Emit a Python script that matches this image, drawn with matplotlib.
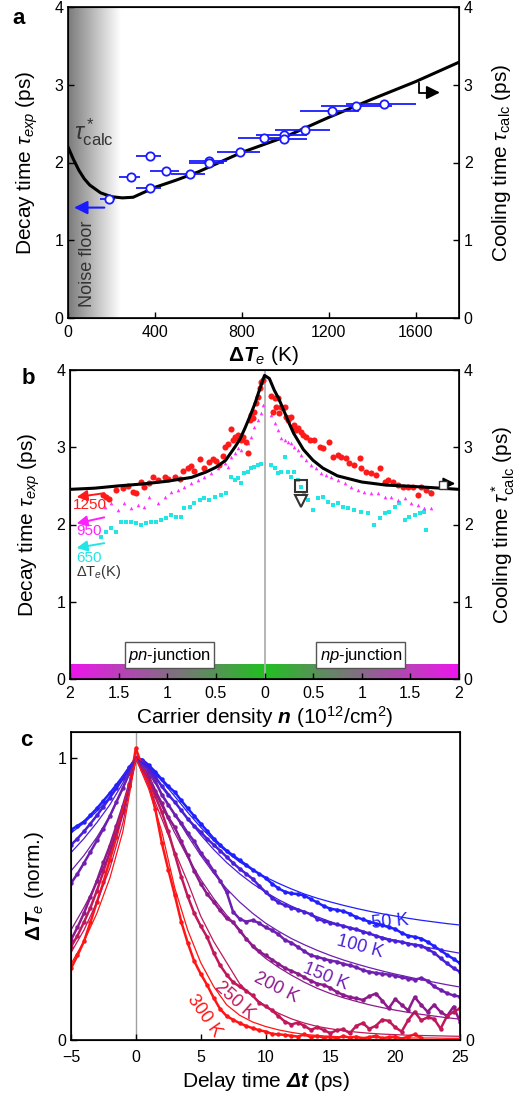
import numpy as np
import matplotlib
matplotlib.use("Agg")
import matplotlib.pyplot as plt
from matplotlib.colors import LinearSegmentedColormap

plt.rcParams['font.family'] = ['Liberation Sans', 'DejaVu Sans']
plt.rcParams['mathtext.fontset'] = 'custom'
plt.rcParams['mathtext.rm'] = 'Liberation Sans'
plt.rcParams['mathtext.it'] = 'Liberation Sans:italic'
plt.rcParams['mathtext.bf'] = 'Liberation Sans:bold'
plt.rcParams['mathtext.bfit'] = 'Liberation Sans:bold:italic'
plt.rcParams['xtick.direction'] = 'in'
plt.rcParams['ytick.direction'] = 'in'

# ---------------- panel a data ----------------
dTe = [188, 289, 378, 378, 452, 560, 651, 651, 792, 902, 995, 995, 1089, 1217, 1328, 1457]
tau_exp = [1.536, 1.818, 2.09, 1.677, 1.887, 1.852, 2.024, 1.99, 2.13, 2.319, 2.353, 2.297,
           2.413, 2.657, 2.725, 2.751]
dTe_lo = [146, 235, 315, 315, 378, 474, 558, 558, 686, 782, 866, 915, 954, 1066, 1165, 1282]
dTe_hi = [215, 331, 429, 429, 511, 631, 731, 718, 882, 1008, 1100, 1100, 1205, 1338, 1492, 1600]

calc_a_x = [0, 25, 50, 75, 100, 150, 200, 250, 300, 400, 500, 600, 800, 1000, 1200, 1400, 1600, 1800]
calc_a_y = [2.2, 2.04, 1.9, 1.79, 1.71, 1.61, 1.56, 1.545, 1.553, 1.68, 1.775, 1.88, 2.13, 2.33,
            2.58, 2.815, 3.04, 3.29]

# ---------------- panel b data ----------------
calc_b_n = [-2, -1.75, -1.5, -1.25, -1, -0.75, -0.6, -0.5, -0.4, -0.3, -0.25, -0.2, -0.15, -0.1,
            -0.05, 0, 0.05, 0.1, 0.15, 0.2, 0.25, 0.3, 0.4, 0.5, 0.6, 0.75, 1, 1.25, 1.5, 1.75, 2]
calc_b_tau = [2.455, 2.47, 2.5, 2.525, 2.56, 2.61, 2.68, 2.74, 2.83, 3.01, 3.11, 3.25, 3.4, 3.56,
              3.75, 3.93, 3.89, 3.74, 3.62, 3.47, 3.32, 3.18, 2.97, 2.83, 2.73, 2.63, 2.55, 2.51,
              2.495, 2.475, 2.455]

red_n = [-1.662, -1.628, -1.594, -1.525, -1.457, -1.405, -1.354, -1.320, -1.268, -1.234, -1.183,
         -1.148, -1.097, -1.028, -0.994, -0.925, -0.874, -0.840, -0.788, -0.754, -0.720, -0.668,
         -0.617, -0.566, -0.531, -0.497, -0.463, -0.428, -0.411, -0.377, -0.343, -0.326, -0.308,
         -0.291, -0.274, -0.257, -0.240, -0.223, -0.189, -0.171, -0.154, -0.137, -0.120, -0.103,
         -0.086, -0.069, -0.051, -0.034, -0.017,
         0.069, 0.086, 0.103, 0.120, 0.137, 0.154, 0.171, 0.189, 0.206, 0.223, 0.240, 0.257,
         0.274, 0.291, 0.308, 0.326, 0.343, 0.377, 0.394, 0.428, 0.463, 0.514, 0.566, 0.600,
         0.668, 0.703, 0.754, 0.788, 0.840, 0.874, 0.925, 0.977, 0.994, 1.045, 1.097, 1.148,
         1.183, 1.234, 1.268, 1.320, 1.371, 1.423, 1.474, 1.526, 1.577, 1.611, 1.663, 1.714]
red_tau = [2.381, 2.36, 2.325, 2.446, 2.468, 2.502, 2.425, 2.403, 2.554, 2.489, 2.533, 2.610,
           2.576, 2.619, 2.584, 2.610, 2.584, 2.692, 2.727, 2.757, 2.697, 2.843, 2.727, 2.813,
           2.843, 2.826, 2.770, 2.886, 3.007, 3.042, 3.232, 3.094, 3.137, 3.115, 3.158, 3.128,
           3.094, 3.137, 3.072, 2.921, 3.353, 3.417, 3.374, 3.460, 3.568, 3.655, 3.763, 3.849,
           3.871,
           3.663, 3.460, 3.633, 3.525, 3.633, 3.439, 3.525, 3.504, 3.525, 3.396, 3.353, 3.374,
           3.396, 3.266, 3.288, 3.223, 3.245, 3.202, 3.158, 3.137, 3.094, 3.094, 3.007, 2.986,
           3.072, 2.878, 2.899, 2.878, 2.856, 2.792, 2.770, 2.856, 2.727, 2.684, 2.662, 2.640,
           2.727, 2.554, 2.576, 2.554, 2.511, 2.489, 2.489, 2.489, 2.381, 2.489, 2.446, 2.412]

mag_n = [-1.645, -1.577, -1.508, -1.440, -1.371, -1.303, -1.234, -1.183, -1.097, -1.028, -0.960,
         -0.891, -0.823, -0.754, -0.686, -0.617, -0.548, -0.480, -0.411, -0.377, -0.343, -0.308,
         -0.274, -0.240, -0.206, -0.171, -0.137, -0.103, -0.069, -0.034, -0.017,
         0.069, 0.103, 0.137, 0.171, 0.206, 0.240, 0.274, 0.308, 0.343, 0.377, 0.428, 0.480,
         0.531, 0.583, 0.634, 0.686, 0.754, 0.823, 0.891, 0.960, 1.028, 1.097, 1.165, 1.234,
         1.303, 1.371, 1.440, 1.508, 1.577, 1.645, 1.714]
mag_tau = [2.230, 2.274, 2.187, 2.274, 2.209, 2.252, 2.230, 2.360, 2.274, 2.360, 2.425, 2.446,
           2.489, 2.533, 2.576, 2.619, 2.662, 2.727, 2.792, 2.748, 2.878, 2.921, 2.986, 2.964,
           3.094, 3.050, 3.137, 3.266, 3.353, 3.439, 3.547,
           3.417, 3.309, 3.223, 3.115, 3.094, 3.072, 3.050, 3.007, 2.964, 2.899, 2.835, 2.770,
           2.727, 2.662, 2.640, 2.619, 2.576, 2.533, 2.489, 2.446, 2.425, 2.403, 2.403, 2.360,
           2.360, 2.317, 2.338, 2.274, 2.252, 2.209, 2.209]

cyan_n = [-1.680, -1.628, -1.577, -1.525, -1.474, -1.423, -1.371, -1.320, -1.268, -1.217, -1.165,
          -1.114, -1.063, -1.011, -0.960, -0.908, -0.857, -0.823, -0.771, -0.720, -0.668, -0.617,
          -0.566, -0.514, -0.446, -0.394, -0.343, -0.308, -0.274, -0.240, -0.206, -0.171, -0.137,
          -0.103, -0.069, -0.034,
          0.069, 0.103, 0.137, 0.171, 0.206, 0.240, 0.274, 0.308, 0.343, 0.377, 0.411, 0.446,
          0.497, 0.548, 0.600, 0.651, 0.703, 0.754, 0.806, 0.857, 0.925, 0.994, 1.063, 1.131,
          1.183, 1.234, 1.285, 1.337, 1.388, 1.440, 1.491, 1.543, 1.594, 1.645, 1.663, 1.697]
cyan_tau = [1.842, 1.907, 1.950, 1.907, 2.036, 2.036, 2.036, 2.015, 1.993, 2.015, 2.036, 2.036,
            2.058, 2.079, 2.123, 2.101, 2.101, 2.209, 2.230, 2.274, 2.317, 2.338, 2.317, 2.360,
            2.381, 2.403, 2.619, 2.576, 2.597, 2.533, 2.662, 2.684, 2.727, 2.748, 2.770, 2.783,
            2.770, 2.727, 2.662, 2.684, 2.878, 2.684, 2.619, 2.684, 2.576, 2.489, 2.403, 2.317,
            2.187, 2.338, 2.360, 2.295, 2.252, 2.274, 2.230, 2.209, 2.187, 2.166, 2.144, 1.993,
            2.079, 2.144, 2.166, 2.230, 2.274, 2.058, 2.101, 2.123, 2.144, 2.166, 1.928, 2.425]

n_ticks = [-2, -1.5, -1, -0.5, 0, 0.5, 1, 1.5, 2]
n_ticklabels = ['2', '1.5', '1', '0.5', '0', '0.5', '1', '1.5', '2']

# ---------------- panel c data ----------------
delay = np.arange(-5, 25.5, 0.5)
fit_t = np.arange(-5, 26, 1)
temps = ['50 K', '100 K', '150 K', '200 K', '250 K', '300 K']

dTe_50 = [0.746, 0.760, 0.775, 0.798, 0.822, 0.849, 0.876, 0.905, 0.935, 0.968, 1.0,
          0.995, 0.975, 0.952, 0.925, 0.90, 0.88, 0.85, 0.822, 0.795, 0.768, 0.742, 0.715,
          0.692, 0.672, 0.655, 0.638, 0.622, 0.605, 0.59, 0.575, 0.555, 0.538, 0.526, 0.52,
          0.518, 0.512, 0.50, 0.488, 0.475, 0.466, 0.462, 0.457, 0.448, 0.436, 0.428, 0.42,
          0.413, 0.408, 0.40, 0.394, 0.38, 0.37, 0.366, 0.36, 0.348, 0.333, 0.318, 0.302,
          0.288, 0.272]
dTe_100 = [0.692, 0.715, 0.740, 0.768, 0.797, 0.828, 0.860, 0.893, 0.928, 0.964, 1.0,
           0.99, 0.965, 0.935, 0.90, 0.87, 0.845, 0.815, 0.785, 0.76, 0.738, 0.714, 0.693,
           0.672, 0.65, 0.628, 0.608, 0.59, 0.572, 0.548, 0.525, 0.505, 0.488, 0.478, 0.47,
           0.462, 0.455, 0.446, 0.43, 0.422, 0.416, 0.41, 0.405, 0.398, 0.393, 0.385, 0.378,
           0.37, 0.362, 0.356, 0.352, 0.348, 0.342, 0.338, 0.335, 0.322, 0.31, 0.29, 0.272,
           0.255, 0.242]
dTe_150 = [0.556, 0.59, 0.628, 0.668, 0.708, 0.75, 0.795, 0.845, 0.895, 0.947, 1.0,
           0.985, 0.955, 0.92, 0.87, 0.835, 0.80, 0.77, 0.735, 0.705, 0.665, 0.635, 0.60,
           0.565, 0.525, 0.455, 0.43, 0.42, 0.425, 0.415, 0.40, 0.39, 0.375, 0.355, 0.345,
           0.33, 0.315, 0.30, 0.295, 0.288, 0.282, 0.278, 0.27, 0.265, 0.258, 0.248, 0.242,
           0.238, 0.235, 0.232, 0.228, 0.222, 0.218, 0.214, 0.22, 0.21, 0.19, 0.178, 0.166,
           0.158, 0.154]
dTe_200 = [0.355, 0.40, 0.45, 0.508, 0.565, 0.63, 0.69, 0.76, 0.83, 0.91, 1.0,
           0.975, 0.935, 0.885, 0.84, 0.79, 0.755, 0.705, 0.655, 0.60, 0.555, 0.518, 0.49,
           0.46, 0.432, 0.418, 0.388, 0.36, 0.335, 0.315, 0.30, 0.285, 0.27, 0.255, 0.245,
           0.235, 0.222, 0.21, 0.20, 0.195, 0.185, 0.17, 0.16, 0.152, 0.148, 0.142, 0.155,
           0.165, 0.14, 0.112, 0.145, 0.125, 0.105, 0.152, 0.125, 0.10, 0.125, 0.10, 0.085,
           0.118, 0.065]
dTe_250 = [0.331, 0.37, 0.418, 0.47, 0.53, 0.598, 0.668, 0.742, 0.82, 0.90, 1.0,
           0.96, 0.915, 0.865, 0.81, 0.74, 0.66, 0.58, 0.51, 0.45, 0.405, 0.365, 0.31,
           0.265, 0.232, 0.205, 0.19, 0.175, 0.158, 0.133, 0.12, 0.105, 0.085, 0.065, 0.055,
           0.062, 0.05, 0.036, 0.045, 0.035, 0.024, 0.035, 0.038, 0.024, 0.05, 0.06, 0.04,
           0.05, 0.072, 0.068, 0.045, 0.03, 0.07, 0.10, 0.07, 0.08, 0.075, 0.04, 0.085,
           0.10, 0.112]
dTe_300 = [0.254, 0.30, 0.35, 0.418, 0.49, 0.56, 0.64, 0.72, 0.81, 0.90, 1.035,
           0.97, 0.915, 0.82, 0.70, 0.605, 0.515, 0.42, 0.345, 0.28, 0.235, 0.195, 0.15,
           0.11, 0.085, 0.072, 0.06, 0.05, 0.042, 0.035, 0.03, 0.022, 0.02, 0.018, 0.015,
           0.012, 0.02, 0.01, 0.015, 0.008, 0.012, 0.006, 0.014, 0.008, 0.012, 0.005, 0.01,
           0.015, 0.006, 0.01, 0.012, 0.005, 0.012, 0.02, 0.008, np.nan, np.nan, np.nan,
           np.nan, np.nan, np.nan]

fit_50 = [0.735, 0.77, 0.812, 0.862, 0.925, 1.0, 0.968, 0.92, 0.865, 0.808, 0.755, 0.708,
          0.667, 0.632, 0.603, 0.578, 0.556, 0.536, 0.518, 0.503, 0.49, 0.478, 0.467, 0.457,
          0.448, 0.44, 0.432, 0.425, 0.419, 0.413, 0.408]
fit_100 = [0.665, 0.715, 0.772, 0.835, 0.912, 1.0, 0.958, 0.905, 0.845, 0.785, 0.728, 0.676,
           0.63, 0.59, 0.555, 0.525, 0.498, 0.475, 0.455, 0.437, 0.42, 0.404, 0.39, 0.377,
           0.365, 0.353, 0.343, 0.333, 0.324, 0.316, 0.308]
fit_150 = [0.6, 0.655, 0.72, 0.795, 0.89, 1.0, 0.945, 0.875, 0.80, 0.725, 0.655, 0.592,
           0.537, 0.49, 0.45, 0.415, 0.386, 0.36, 0.338, 0.318, 0.30, 0.284, 0.27, 0.257,
           0.245, 0.234, 0.224, 0.214, 0.205, 0.196, 0.188]
fit_200 = [0.39, 0.47, 0.56, 0.665, 0.8, 1.0, 0.925, 0.83, 0.735, 0.648, 0.57, 0.502,
           0.443, 0.393, 0.33, 0.29, 0.258, 0.23, 0.205, 0.183, 0.165, 0.15, 0.137, 0.125,
           0.115, 0.106, 0.098, 0.091, 0.085, 0.079, 0.074]
fit_250 = [0.31, 0.39, 0.49, 0.61, 0.77, 1.0, 0.9, 0.785, 0.67, 0.56, 0.44, 0.35,
           0.275, 0.2, 0.155, 0.12, 0.095, 0.075, 0.06, 0.048, 0.04, 0.033, 0.028, 0.024,
           0.021, 0.019, 0.017, 0.016, 0.015, 0.014, 0.013]
fit_300 = [0.27, 0.35, 0.45, 0.575, 0.74, 1.0, 0.89, 0.74, 0.54, 0.39, 0.275, 0.19,
           0.125, 0.088, 0.064, 0.048, 0.036, 0.027, 0.02, 0.016, 0.013, 0.011, 0.01, 0.009,
           0.008, 0.008, 0.007, 0.007, 0.007, 0.006, 0.006]

series_c = [dTe_50, dTe_100, dTe_150, dTe_200, dTe_250, dTe_300]
fits_c = [fit_50, fit_100, fit_150, fit_200, fit_250, fit_300]
colors_c = ['#2020ff', '#4a1fd8', '#6e1fb0', '#8c1a8c', '#c0185a', '#ff1515']

fig = plt.figure(figsize=(5.27, 10.97), dpi=100)
W, H = 527.0, 1097.0
tick_fs = 11.5
lab_fs = 15


def style_axes(ax):
    ax.tick_params(labelsize=tick_fs, length=4, width=1)
    ax.tick_params(axis='x', pad=5)
    for s in ax.spines.values():
        s.set_linewidth(1.2)


# ================= panel a =================
ax = fig.add_axes([68 / W, 1 - 318 / H, 391 / W, 311 / H])
grad = np.linspace(0.48, 1.0, 256).reshape(1, -1)
ax.imshow(grad, cmap='gray', vmin=0, vmax=1, aspect='auto', extent=[0, 240, 0, 4], zorder=0)
ax.plot(calc_a_x, calc_a_y, color='black', lw=2.2, zorder=3)
xerr = [np.array(dTe) - np.array(dTe_lo), np.array(dTe_hi) - np.array(dTe)]
ax.errorbar(dTe, tau_exp, xerr=xerr, fmt='o', color='#1a1aff', mfc='white', mec='#1a1aff',
            ms=6, mew=1.3, elinewidth=1.3, capsize=0, zorder=4)
ax.annotate('', xy=(15, 1.42), xytext=(180, 1.42),
            arrowprops=dict(arrowstyle='-|>', color='#1a1aff', lw=1.5, mutation_scale=20))
ax.plot([1615, 1615, 1665], [3.02, 2.9, 2.9], color='black', lw=1.3)
ax.annotate('', xy=(1725, 2.9), xytext=(1660, 2.9),
            arrowprops=dict(arrowstyle='-|>', color='black', lw=1.3, mutation_scale=20))
ax.text(28, 2.3, r'$\tau^*_{\rm calc}$', fontsize=17, color='#333333')
ax.text(88, 0.7, 'Noise floor', rotation=90, fontsize=13, color='#333333',
        ha='center', va='center')
ax.set_xlim(0, 1800)
ax.set_ylim(0, 4)
ax.set_xticks([0, 400, 800, 1200, 1600])
ax.set_yticks([0, 1, 2, 3, 4])
style_axes(ax)
ax.set_xlabel(r'$\mathbf{\Delta}\mathbfit{T}_e$ (K)', fontsize=lab_fs, labelpad=3)
ax.set_ylabel(r'Decay time $\tau_{exp}$ (ps)', fontsize=lab_fs, labelpad=10)
axr = ax.twinx()
axr.set_ylim(0, 4)
axr.set_yticks([0, 1, 2, 3, 4])
axr.tick_params(labelsize=tick_fs, length=4, width=1)
axr.set_ylabel(r'Cooling time $\tau_{\rm calc}$ (ps)', fontsize=lab_fs, labelpad=12)
fig.text(12 / W, 1 - 18 / H, 'a', fontsize=16, fontweight='bold', va='center')

# ================= panel b =================
ax = fig.add_axes([70 / W, 1 - 679 / H, 389 / W, 309 / H])
strip = LinearSegmentedColormap.from_list('jn', ['#ee15ee', '#20c020', '#ee15ee'])
ax.imshow(np.linspace(0, 1, 256).reshape(1, -1), cmap=strip, aspect='auto',
          extent=[-2, 2, 0, 0.185], zorder=0)
ax.axvline(0, color='#b0b0b0', lw=1.3, zorder=1)
ax.plot(cyan_n, cyan_tau, 's', color='#22e6e6', ms=2.8, mew=0, zorder=2)
ax.plot(mag_n, mag_tau, '^', color='#ff30ff', ms=2.6, mew=0, zorder=2)
ax.plot(red_n, red_tau, 'o', color='#ff1a1a', ms=4.4, mew=0, zorder=3)
ax.plot(calc_b_n, calc_b_tau, color='black', lw=2.2, zorder=4)
ax.plot([0.377], [2.50], 's', mfc='none', mec='#333333', ms=8, mew=1.5, zorder=5)
ax.plot([0.377], [2.30], 'v', mfc='none', mec='#333333', ms=8, mew=1.5, zorder=5)
ax.plot([1.84], [2.51], 's', mfc='white', mec='#333333', ms=6, mew=1.0, zorder=5)
ax.annotate('', xy=(1.99, 2.53), xytext=(1.86, 2.53),
            arrowprops=dict(arrowstyle='-|>', color='black', lw=1.3, mutation_scale=18))
arrow_specs = [('#ff1a1a', 2.41, 2.35, '1250', 2.25),
               ('#ff20ff', 2.10, 2.006, '950', 1.91),
               ('#22e6e6', 1.765, 1.69, '650', 1.57)]
for col, y0, y1, lab, ly in arrow_specs:
    ax.annotate('', xy=(-1.96, y1), xytext=(-1.62, y0),
                arrowprops=dict(arrowstyle='-|>', color=col, lw=1.4, mutation_scale=16))
    ax.text(-1.80, ly, lab, color=col, fontsize=11, ha='center', va='center')
ax.text(-1.70, 1.38, r'$\Delta$T$_e$(K)', color='#333333', fontsize=10.5, ha='center', va='center')
box = dict(boxstyle='square,pad=0.2', fc='white', ec='#555555', lw=1.0)
ax.text(-0.98, 0.31, r'$pn$-junction', fontsize=12, ha='center', va='center', bbox=box)
ax.text(0.99, 0.31, r'$np$-junction', fontsize=12, ha='center', va='center', bbox=box)
ax.set_xlim(-2, 2)
ax.set_ylim(0, 4)
ax.set_xticks(n_ticks)
ax.set_xticklabels(n_ticklabels)
ax.set_yticks([0, 1, 2, 3, 4])
style_axes(ax)
ax.set_xlabel(r'Carrier density $\mathbfit{n}$ (10$^{12}$/cm$^2$)', fontsize=lab_fs, labelpad=2)
ax.set_ylabel(r'Decay time $\tau_{exp}$ (ps)', fontsize=lab_fs, labelpad=10)
axr = ax.twinx()
axr.set_ylim(0, 4)
axr.set_yticks([0, 1, 2, 3, 4])
axr.tick_params(labelsize=tick_fs, length=4, width=1)
axr.set_ylabel(r'Cooling time $\tau^*_{\rm calc}$ (ps)', fontsize=lab_fs, labelpad=12)
fig.text(22 / W, 1 - 378 / H, 'b', fontsize=16, fontweight='bold', va='center')

# ================= panel c =================
ax = fig.add_axes([71 / W, 1 - 1040 / H, 389 / W, 308 / H])
ax.axvline(0, color='#a0a0a0', lw=1.0, zorder=0)
for d, f, c in zip(series_c, fits_c, colors_c):
    ax.plot(delay, d, '-o', color=c, ms=3.2, mew=0, lw=1.8, zorder=2)
    ax.plot(fit_t, f, '-', color=c, lw=0.9, zorder=3)
label_specs = [(19.6, 0.42, 5), (17.3, 0.33, -15), (14.6, 0.225, -22),
               (10.8, 0.185, -27), (7.6, 0.14, -42), (5.3, 0.085, -55)]
for (lx, ly, rot), lab, c in zip(label_specs, temps, colors_c):
    ax.text(lx, ly, lab, color=c, fontsize=13, rotation=rot, ha='center', va='center')
ax.set_xlim(-5, 25)
ax.set_ylim(0, 1.093)
ax.set_xticks([-5, 0, 5, 10, 15, 20, 25])
ax.set_yticks([0, 1])
style_axes(ax)
ax.tick_params(axis='x', pad=7)
ax.set_xlabel(r'Delay time $\mathbfit{\Delta t}$ (ps)', fontsize=lab_fs, labelpad=4)
ax.set_ylabel(r'$\mathbf{\Delta}\mathbfit{T}_e$ (norm.)', fontsize=lab_fs, labelpad=8)
axr = ax.twinx()
axr.set_ylim(0, 1.093)
axr.set_yticks([0])
axr.tick_params(labelsize=tick_fs, length=0, pad=4)
fig.text(20 / W, 1 - 740 / H, 'c', fontsize=16, fontweight='bold', va='center')

fig.savefig('out.png', dpi=100)
